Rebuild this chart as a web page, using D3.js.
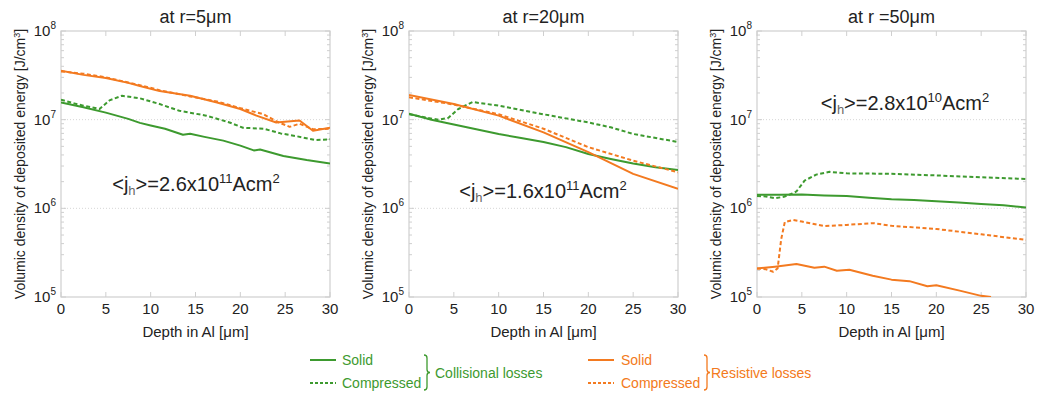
<!DOCTYPE html>
<html><head><meta charset="utf-8">
<script src="https://cdn.jsdelivr.net/npm/d3@7"></script>
<style>body{margin:0;background:#fff}svg text{font-family:"Liberation Sans",Arial,Helvetica,sans-serif}</style>
</head><body><svg id="c" width="1039" height="397"></svg>
<script>
// ---- data ----
const depthTicks = [0, 5, 10, 15, 20, 25, 30];
const yTickExponents = [5, 6, 7, 8];
const panelTitles = ["at r=5\u03bcm", "at r=20\u03bcm", "at r =50\u03bcm"];
const annMantissa = ["2.6", "1.6", "2.8"];
const annExponent = ["11", "11", "10"];
const xAxisLabel = "Depth in Al [\u03bcm]";
const yAxisLabel = "Volumic density of deposited energy [J/cm";

// panel 1 (r = 5 um)
const p1GreenSolid = [[0,1.56e7],[2.5,1.38e7],[5,1.2e7],[7.5,1.02e7],[8.8,9.2e6],[10,8.6e6],[11.6,7.9e6],[13.6,6.75e6],[14.4,6.95e6],[16,6.4e6],[18.1,5.8e6],[20,5.1e6],[21.5,4.5e6],[22.2,4.6e6],[24.8,3.9e6],[27.4,3.5e6],[30,3.2e6]];
const p1GreenDashed = [[0,1.68e7],[1.5,1.52e7],[2.5,1.44e7],[4.3,1.32e7],[5.4,1.65e7],[6.8,1.86e7],[8.8,1.74e7],[11,1.5e7],[13.2,1.26e7],[16.2,1.11e7],[18.8,9.3e6],[20.3,8.1e6],[22.6,7.9e6],[24.5,7.0e6],[26.3,6.5e6],[28.3,5.9e6],[30,6.0e6]];
const p1OrangeSolid = [[0,3.56e7],[2.5,3.2e7],[5,2.95e7],[7.5,2.6e7],[8.8,2.4e7],[11,2.1e7],[14.4,1.86e7],[17.4,1.56e7],[20,1.32e7],[21.8,1.11e7],[24,9.3e6],[26.6,9.8e6],[28.1,7.5e6],[30,8.1e6]];
const p1OrangeDashed = [[0,3.5e7],[2.5,3.3e7],[5,3.0e7],[7.5,2.62e7],[8.8,2.45e7],[11,2.15e7],[14.4,1.83e7],[17.4,1.6e7],[20,1.35e7],[22.6,1.15e7],[24,9.6e6],[25.5,8.3e6],[26.6,9.0e6],[28.1,7.8e6],[30,7.9e6]];

// panel 2 (r = 20 um)
const p2GreenSolid = [[0,1.17e7],[2.5,1.0e7],[5,8.8e6],[7.5,7.8e6],[10,6.9e6],[12.5,6.2e6],[15,5.6e6],[17.5,4.9e6],[20,4.1e6],[22.5,3.6e6],[25,3.2e6],[27.5,2.9e6],[30,2.7e6]];
const p2GreenDashed = [[0,1.15e7],[2,1.05e7],[3.3,1.0e7],[4.4,1.05e7],[5.5,1.32e7],[7.1,1.58e7],[10,1.44e7],[15,1.15e7],[20,9.3e6],[22.5,8.2e6],[25,6.9e6],[30,5.6e6]];
const p2OrangeSolid = [[0,1.9e7],[5,1.5e7],[10,1.11e7],[15,7.2e6],[20,4.3e6],[25,2.45e6],[30,1.66e6]];
const p2OrangeDashed = [[0,1.79e7],[5,1.48e7],[10,1.15e7],[15,7.9e6],[20,4.9e6],[25,3.45e6],[30,2.55e6]];

// panel 3 (r = 50 um)
const p3GreenSolid = [[0,1.42e6],[2.5,1.42e6],[5,1.43e6],[7.5,1.4e6],[10,1.38e6],[12.5,1.32e6],[15,1.27e6],[17.5,1.24e6],[20,1.2e6],[22.5,1.16e6],[25,1.12e6],[27.5,1.08e6],[30,1.02e6]];
const p3GreenDashed = [[0,1.38e6],[1,1.36e6],[2,1.3e6],[3,1.35e6],[3.8,1.45e6],[4.4,1.55e6],[5.3,2.05e6],[6.6,2.4e6],[8.1,2.58e6],[10,2.48e6],[15,2.45e6],[20,2.35e6],[25,2.24e6],[30,2.14e6]];
const p3OrangeSolid = [[0,2.1e5],[2,2.2e5],[4.4,2.35e5],[6.4,2.14e5],[7.5,2.2e5],[8.9,1.98e5],[10.3,2.03e5],[12.9,1.74e5],[15,1.57e5],[17,1.51e5],[19,1.32e5],[20,1.36e5],[22.6,1.18e5],[25,1.03e5],[26.1,1.0e5]];
const p3OrangeDashed = [[0,2.1e5],[1,2.05e5],[1.8,1.93e5],[2.3,2.1e5],[2.7,4.5e5],[3.1,7.0e5],[4,7.4e5],[5,7.1e5],[7.5,6.3e5],[10,6.5e5],[13,6.8e5],[15,6.35e5],[20,5.85e5],[25,5.1e5],[30,4.4e5]];

const legendLabels = ["Solid", "Compressed"];
const legendGroups = ["Collisional losses", "Resistive losses"];

// ---- styles / layout ----
const GREEN = "#3d9a2f", ORANGE = "#f37a20";
const FRAME = "#cfcfcf", TXT = "#222";
const panelLefts = [61, 409, 757];
const PW = 269, TOP = 31, BOTTOM = 297;
const annPos = [[196, 191], [543, 198], [905, 110]];

const panelSeries = [
  [[p1GreenSolid, GREEN, false], [p1GreenDashed, GREEN, true], [p1OrangeSolid, ORANGE, false], [p1OrangeDashed, ORANGE, true]],
  [[p2GreenSolid, GREEN, false], [p2GreenDashed, GREEN, true], [p2OrangeSolid, ORANGE, false], [p2OrangeDashed, ORANGE, true]],
  [[p3GreenSolid, GREEN, false], [p3GreenDashed, GREEN, true], [p3OrangeSolid, ORANGE, false], [p3OrangeDashed, ORANGE, true]]
];

const svg = d3.select("#c");

panelLefts.forEach((left, i) => {
  const x = d3.scaleLinear().domain([0, 30]).range([left, left + PW]);
  const y = d3.scaleLog().domain([1e5, 1e8]).range([BOTTOM, TOP]);
  const g = svg.append("g");

  g.selectAll(".grid").data([1e6, 1e7]).join("line")
    .attr("x1", left).attr("x2", left + PW)
    .attr("y1", d => y(d)).attr("y2", d => y(d))
    .attr("stroke", "#d6d6d6").attr("stroke-width", 1).attr("stroke-dasharray", "1,2");

  const minor = [];
  for (let e = 5; e < 8; e++) for (let m = 2; m <= 9; m++) minor.push(m * Math.pow(10, e));
  g.selectAll(".ml").data(minor).join("line")
    .attr("x1", left).attr("x2", left + 3).attr("y1", d => y(d)).attr("y2", d => y(d))
    .attr("stroke", FRAME);
  g.selectAll(".mr").data(minor).join("line")
    .attr("x1", left + PW - 3).attr("x2", left + PW).attr("y1", d => y(d)).attr("y2", d => y(d))
    .attr("stroke", FRAME);
  g.selectAll(".yl").data(yTickExponents.map(e => Math.pow(10, e))).join("line")
    .attr("x1", left).attr("x2", left + 5).attr("y1", d => y(d)).attr("y2", d => y(d)).attr("stroke", FRAME);
  g.selectAll(".yr").data(yTickExponents.map(e => Math.pow(10, e))).join("line")
    .attr("x1", left + PW - 5).attr("x2", left + PW).attr("y1", d => y(d)).attr("y2", d => y(d)).attr("stroke", FRAME);
  g.selectAll(".xb").data(depthTicks).join("line")
    .attr("x1", d => x(d)).attr("x2", d => x(d)).attr("y1", BOTTOM).attr("y2", BOTTOM - 5).attr("stroke", FRAME);
  g.selectAll(".xt").data(depthTicks).join("line")
    .attr("x1", d => x(d)).attr("x2", d => x(d)).attr("y1", TOP).attr("y2", TOP + 5).attr("stroke", FRAME);

  g.append("rect").attr("x", left).attr("y", TOP).attr("width", PW).attr("height", BOTTOM - TOP)
    .attr("fill", "none").attr("stroke", FRAME).attr("stroke-width", 1.2);

  const cid = "clip" + i;
  svg.append("clipPath").attr("id", cid).append("rect")
    .attr("x", left).attr("y", TOP).attr("width", PW).attr("height", BOTTOM - TOP);

  const line = d3.line().x(d => x(d[0])).y(d => y(d[1]));
  const lg = g.append("g").attr("clip-path", `url(#${cid})`);
  panelSeries[i].forEach(([data, color, dashed]) => {
    lg.append("path").datum(data).attr("d", line)
      .attr("fill", "none").attr("stroke", color).attr("stroke-width", 2)
      .attr("stroke-linejoin", "round")
      .attr("stroke-dasharray", dashed ? "4,2.5" : null);
  });

  g.selectAll(".xtl").data(depthTicks).join("text")
    .attr("x", d => x(d)).attr("y", 314).attr("text-anchor", "middle")
    .attr("font-size", 15).attr("fill", TXT).text(d => d);
  yTickExponents.forEach(e => {
    const t = g.append("text").attr("x", left - 5).attr("y", y(Math.pow(10, e)) + 5)
      .attr("text-anchor", "end").attr("font-size", 15).attr("fill", TXT);
    t.append("tspan").text("10");
    t.append("tspan").attr("dy", -7).attr("font-size", 10).text(e);
  });
  g.append("text").attr("x", left + PW / 2).attr("y", 337).attr("text-anchor", "middle")
    .attr("font-size", 15).attr("fill", TXT).text(xAxisLabel);
  const yl = g.append("text").attr("transform", `translate(${left - 36},${(TOP + BOTTOM) / 2}) rotate(-90)`)
    .attr("text-anchor", "middle").attr("font-size", 14).attr("fill", TXT);
  yl.append("tspan").text(yAxisLabel);
  yl.append("tspan").attr("dy", -5).attr("font-size", 9).text("3");
  yl.append("tspan").attr("dy", 5).text("]");
  g.append("text").attr("x", left + PW / 2).attr("y", 23).attr("text-anchor", "middle")
    .attr("font-size", 18).attr("fill", TXT).text(panelTitles[i]);
  const a = g.append("text").attr("x", annPos[i][0]).attr("y", annPos[i][1]).attr("text-anchor", "middle")
    .attr("font-size", 20).attr("fill", TXT);
  a.append("tspan").text("<j");
  a.append("tspan").attr("dy", 4).attr("font-size", 13).attr("fill", "#666").text("h");
  a.append("tspan").attr("dy", -4).text(">=" + annMantissa[i] + "x10");
  a.append("tspan").attr("dy", -8).attr("font-size", 13).text(annExponent[i]);
  a.append("tspan").attr("dy", 8).text("Acm");
  a.append("tspan").attr("dy", -8).attr("font-size", 13).text("2");
});

// ---- legend ----
const legendX = [310, 588];
const legendTextX = [342, 621];
const braceX = [424, 704];
const groupX = [435, 711];
const rowY = [360, 383];
[GREEN, ORANGE].forEach((col, gi) => {
  const lg = svg.append("g");
  legendLabels.forEach((lab, r) => {
    lg.append("line").attr("x1", legendX[gi]).attr("x2", legendX[gi] + 26)
      .attr("y1", rowY[r]).attr("y2", rowY[r]).attr("stroke", col).attr("stroke-width", 2)
      .attr("stroke-dasharray", r === 1 ? "3,2" : null);
    lg.append("text").attr("x", legendTextX[gi]).attr("y", rowY[r] + 5)
      .attr("font-size", 14).attr("fill", col).text(lab);
  });
  const bx = braceX[gi], y0 = 355, y1 = 390, ym = (y0 + y1) / 2;
  lg.append("path")
    .attr("d", `M${bx},${y0} q3,0 3,3 V${ym - 3} q0,3 3,3 q-3,0 -3,3 V${y1 - 3} q0,3 -3,3`)
    .attr("fill", "none").attr("stroke", col).attr("stroke-width", 1.3);
  lg.append("text").attr("x", groupX[gi]).attr("y", ym + 5)
    .attr("font-size", 14).attr("fill", col).text(legendGroups[gi]);
});
</script></body></html>
